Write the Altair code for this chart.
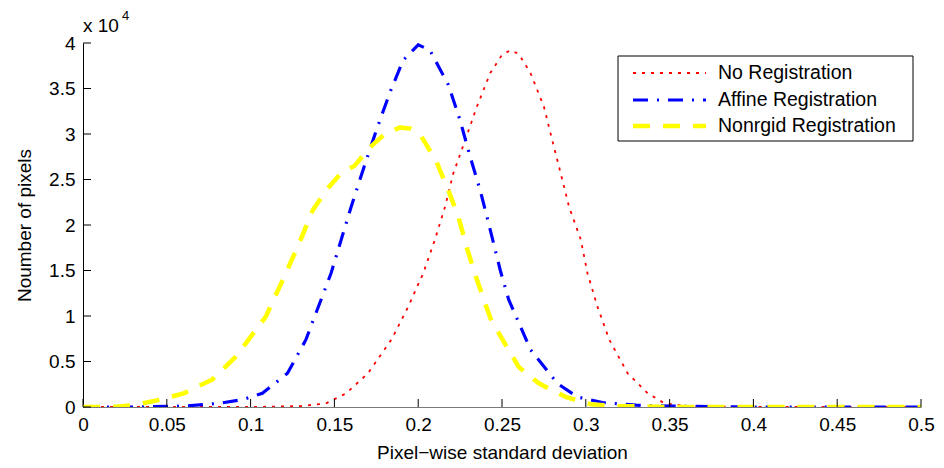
import altair as alt
import pandas as pd

# ---- data (y values in pixel counts) ----
series_names = ["No Registration", "Affine Registration", "Nonrgid Registration"]

x_none = [0, 0.10, 0.13, 0.145, 0.157, 0.17, 0.184, 0.194, 0.203, 0.210, 0.216, 0.221, 0.228, 0.235,
          0.243, 0.250, 0.255, 0.260, 0.267, 0.275, 0.280, 0.285, 0.290, 0.297, 0.301, 0.307, 0.314,
          0.325, 0.337, 0.347, 0.36, 0.40, 0.5]
y_none = [0, 0, 100, 400, 1500, 3700, 7400, 11000, 14700, 18400, 22000, 25700, 29300, 33000,
          36700, 38700, 39200, 38800, 36700, 33000, 29300, 25700, 22000, 18400, 14700, 11000, 7400,
          3700, 1500, 400, 100, 0, 0]

x_affine = [0, 0.03, 0.06, 0.081, 0.095, 0.107, 0.122, 0.133, 0.148, 0.160, 0.167, 0.175, 0.183,
            0.191, 0.200, 0.207, 0.218, 0.225, 0.231, 0.237, 0.242, 0.249, 0.254, 0.267, 0.283,
            0.295, 0.310, 0.33, 0.35, 0.40, 0.5]
y_affine = [0, 0, 100, 400, 800, 1500, 3700, 7400, 14700, 22000, 26000, 30400, 34500,
            38100, 39800, 39200, 35400, 31500, 27500, 23800, 20200, 15000, 11800, 6300, 2600,
            1100, 500, 200, 100, 0, 0]

x_nonrigid = [0, 0.018, 0.03, 0.046, 0.06, 0.077, 0.091, 0.109, 0.120, 0.129, 0.137, 0.145, 0.154,
              0.162, 0.171, 0.180, 0.189, 0.195, 0.202, 0.211, 0.218, 0.224, 0.229, 0.235, 0.243,
              0.250, 0.260, 0.272, 0.288, 0.303, 0.32, 0.35, 0.5]
y_nonrigid = [0, 0, 200, 800, 1500, 3000, 5500, 9900, 14300, 18000, 21600, 23800, 25700,
              26500, 28500, 30000, 30700, 30600, 29700, 26900, 23800, 20900, 17500, 14000, 9800,
              7500, 4400, 2600, 1100, 300, 100, 0, 0]

x_ticks = [0, 0.05, 0.1, 0.15, 0.2, 0.25, 0.3, 0.35, 0.4, 0.45, 0.5]
y_ticks = [0, 5000, 10000, 15000, 20000, 25000, 30000, 35000, 40000]

colors = ["#ff0000", "#0000ff", "#ffff00"]
dashes = [[3, 6], [15, 9, 2, 9], [17, 13]]
widths = [1.8, 4.5, 4.5]

rows = []
for name, xs, ys in zip(series_names, [x_none, x_affine, x_nonrigid], [y_none, y_affine, y_nonrigid]):
    for i, (a, b) in enumerate(zip(xs, ys)):
        rows.append({"series": name, "x": a, "y": b, "i": i})
df = pd.DataFrame(rows)
legend_df = pd.DataFrame({"series": series_names})

FONT = "Liberation Sans"
W, H = 838, 364

xscale = alt.Scale(domain=[0, 0.5], nice=False, zero=False)
yscale = alt.Scale(domain=[0, 40000], nice=False)
cscale = alt.Scale(domain=series_names, range=colors)
dscale = alt.Scale(domain=series_names, range=dashes)
wscale = alt.Scale(domain=series_names, range=widths)

lines = alt.Chart(df).mark_line(strokeCap="butt", clip=True).encode(
    x=alt.X("x:Q", scale=xscale,
            axis=alt.Axis(values=x_ticks, format="~g", title="Pixel\u2212wise standard deviation",
                          tickSize=0, labelPadding=8, domainColor="#7a7a7a", domainWidth=1.2,
                          grid=False, titlePadding=9, labelFlush=False)),
    y=alt.Y("y:Q", scale=yscale,
            axis=alt.Axis(values=y_ticks, labelExpr="format(datum.value / 10000, '~g')",
                          title="Noumber of pixels", tickSize=0, labelPadding=8,
                          domainColor="#000000", domainWidth=1, grid=False, titlePadding=14,
                          labelFlush=False)),
    color=alt.Color("series:N", scale=cscale, legend=None),
    strokeDash=alt.StrokeDash("series:N", scale=dscale, legend=None),
    strokeWidth=alt.StrokeWidth("series:N", scale=wscale, legend=None),
    order="i:Q",
)

xt = alt.Chart(pd.DataFrame({"t": x_ticks})).mark_rule(color="#000000", strokeWidth=1).encode(
    x=alt.X("t:Q", scale=xscale), y=alt.value(H), y2=alt.value(H - 8)
)
yt = alt.Chart(pd.DataFrame({"t": y_ticks})).mark_rule(color="#000000", strokeWidth=1).encode(
    y=alt.Y("t:Q", scale=yscale), x=alt.value(0), x2=alt.value(8)
)

mult = alt.Chart(pd.DataFrame({"s": ["x 10"]})).mark_text(
    align="left", baseline="alphabetic", font=FONT, fontSize=19, color="#000000"
).encode(text="s:N", x=alt.value(0), y=alt.value(-11))
expo = alt.Chart(pd.DataFrame({"s": ["4"]})).mark_text(
    align="left", baseline="alphabetic", font=FONT, fontSize=13, color="#000000"
).encode(text="s:N", x=alt.value(39), y=alt.value(-23))

# ---- legend box, drawn by hand (MATLAB style) ----
LX0, LX1, LY0, LY1 = 535, 830, 13, 98
row_y = [30, 57, 83]
box = alt.Chart(pd.DataFrame({"s": ["box"]})).mark_rect(
    fill="#ffffff", stroke="#000000", strokeWidth=1
).encode(x=alt.value(LX0), x2=alt.value(LX1), y=alt.value(LY0), y2=alt.value(LY1))

legend_layers = [box]
for name, ry in zip(series_names, row_y):
    base = alt.Chart(legend_df).transform_filter(alt.datum.series == name)
    legend_layers.append(base.mark_rule(strokeCap="butt").encode(
        x=alt.value(550), x2=alt.value(623), y=alt.value(ry),
        color=alt.Color("series:N", scale=cscale, legend=None),
        strokeDash=alt.StrokeDash("series:N", scale=dscale, legend=None),
        strokeWidth=alt.StrokeWidth("series:N", scale=wscale, legend=None),
    ))
    legend_layers.append(base.mark_text(
        align="left", baseline="middle", font=FONT, fontSize=19.5, color="#000000"
    ).encode(x=alt.value(635), y=alt.value(ry), text="series:N"))

chart = alt.layer(lines, xt, yt, mult, expo, *legend_layers).properties(
    width=W, height=H,
    autosize=alt.AutoSizeParams(type="none"),
    padding={"left": 75, "top": 35, "right": 15, "bottom": 60},
).configure_view(stroke=None).configure_axis(
    labelFont=FONT, titleFont=FONT, labelFontSize=19, titleFontSize=19,
    labelColor="#000000", titleColor="#000000", titleFontWeight="normal",
)

chart.save("out.html", embed_options={"renderer": "svg", "actions": False})
